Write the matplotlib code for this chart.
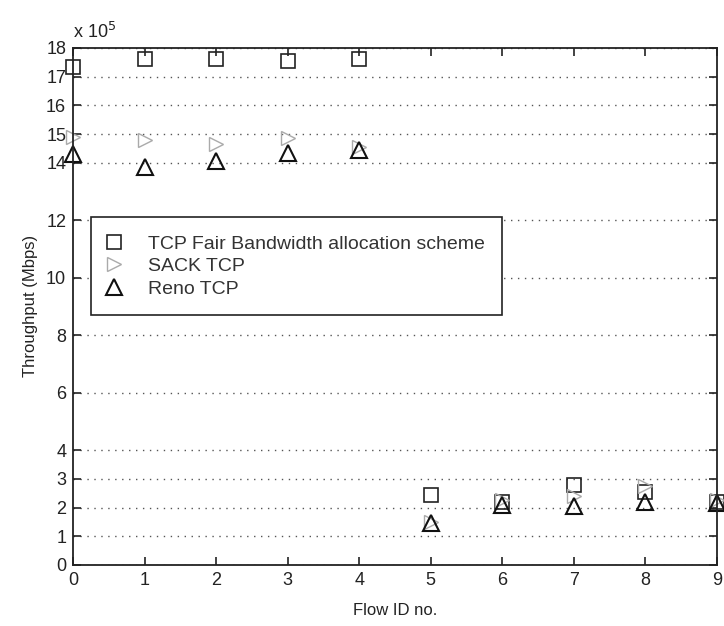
import matplotlib
matplotlib.use("Agg")
import matplotlib.pyplot as plt
from matplotlib.lines import Line2D

plt.rcParams["font.family"] = ["Liberation Sans", "DejaVu Sans"]

# throughput values, in units of 1e5
flow_ids = [0, 1, 2, 3, 4, 5, 6, 7, 8, 9]
fair_bw = [17.35, 17.6, 17.6, 17.55, 17.6, 2.45, 2.2, 2.8, 2.55, 2.2]
sack_tcp = [14.9, 14.8, 14.65, 14.85, 14.55, 1.5, 2.25, 2.4, 2.75, 2.25]
reno_tcp = [14.3, 13.85, 14.05, 14.35, 14.45, 1.45, 2.1, 2.05, 2.2, 2.15]

y_ticks = [0, 1, 2, 3, 4, 6, 8, 10, 12, 14, 15, 16, 17, 18]
series_labels = ["TCP Fair Bandwidth allocation scheme", "SACK TCP", "Reno TCP"]

fig = plt.figure(figsize=(7.24, 6.26), dpi=100)
ax = fig.add_axes([0.101, 0.0975, 0.889, 0.826])

ax.plot(flow_ids, fair_bw, linestyle="none", marker="s", markersize=10,
        markerfacecolor="none", markeredgecolor="#222222", markeredgewidth=1.2, clip_on=False)
ax.plot(flow_ids, sack_tcp, linestyle="none", marker=">", markersize=10,
        markerfacecolor="none", markeredgecolor="#aaaaaa", markeredgewidth=1.0, clip_on=False)
ax.plot(flow_ids, reno_tcp, linestyle="none", marker="^", markersize=12,
        markerfacecolor="none", markeredgecolor="#111111", markeredgewidth=1.5, clip_on=False)

ax.set_xlim(0, 9)
ax.set_ylim(0, 18)
ax.set_xticks(flow_ids)
ax.set_yticks(y_ticks)
ax.tick_params(direction="in", top=True, right=True, length=6, width=1.2,
               labelsize=13, colors="#222222", pad=5)
ax.yaxis.grid(True, linestyle=(0, (1, 4)), color="#555555", linewidth=1.0)
for s in ax.spines.values():
    s.set_linewidth(1.3)
    s.set_color("#222222")

ax.text(0.0, 1.012, r"x 10$^{5}$", transform=ax.transAxes, fontsize=13,
        ha="left", va="bottom", color="#222222")

ax.set_xlabel("Flow ID no.", fontsize=12, color="#222222", labelpad=10)
ax.set_ylabel("Throughput (Mbps)", fontsize=12, color="#222222", labelpad=6)

handles = [
    Line2D([], [], linestyle="none", marker="s", markersize=10, markerfacecolor="none",
           markeredgecolor="#222222", markeredgewidth=1.2),
    Line2D([], [], linestyle="none", marker=">", markersize=10, markerfacecolor="none",
           markeredgecolor="#aaaaaa", markeredgewidth=1.0),
    Line2D([], [], linestyle="none", marker="^", markersize=12, markerfacecolor="none",
           markeredgecolor="#111111", markeredgewidth=1.5),
]
leg = ax.legend(handles, series_labels, loc="upper left", bbox_to_anchor=(0.028, 0.672),
                fontsize=14, frameon=True, fancybox=False, edgecolor="#222222",
                framealpha=1, handlelength=0.5, handletextpad=1.5, labelspacing=0.25,
                borderpad=0.9, borderaxespad=0)
leg.get_frame().set_linewidth(1.2)
for t in leg.get_texts():
    t.set_color("#333333")

fig.savefig("out.png", dpi=100)
